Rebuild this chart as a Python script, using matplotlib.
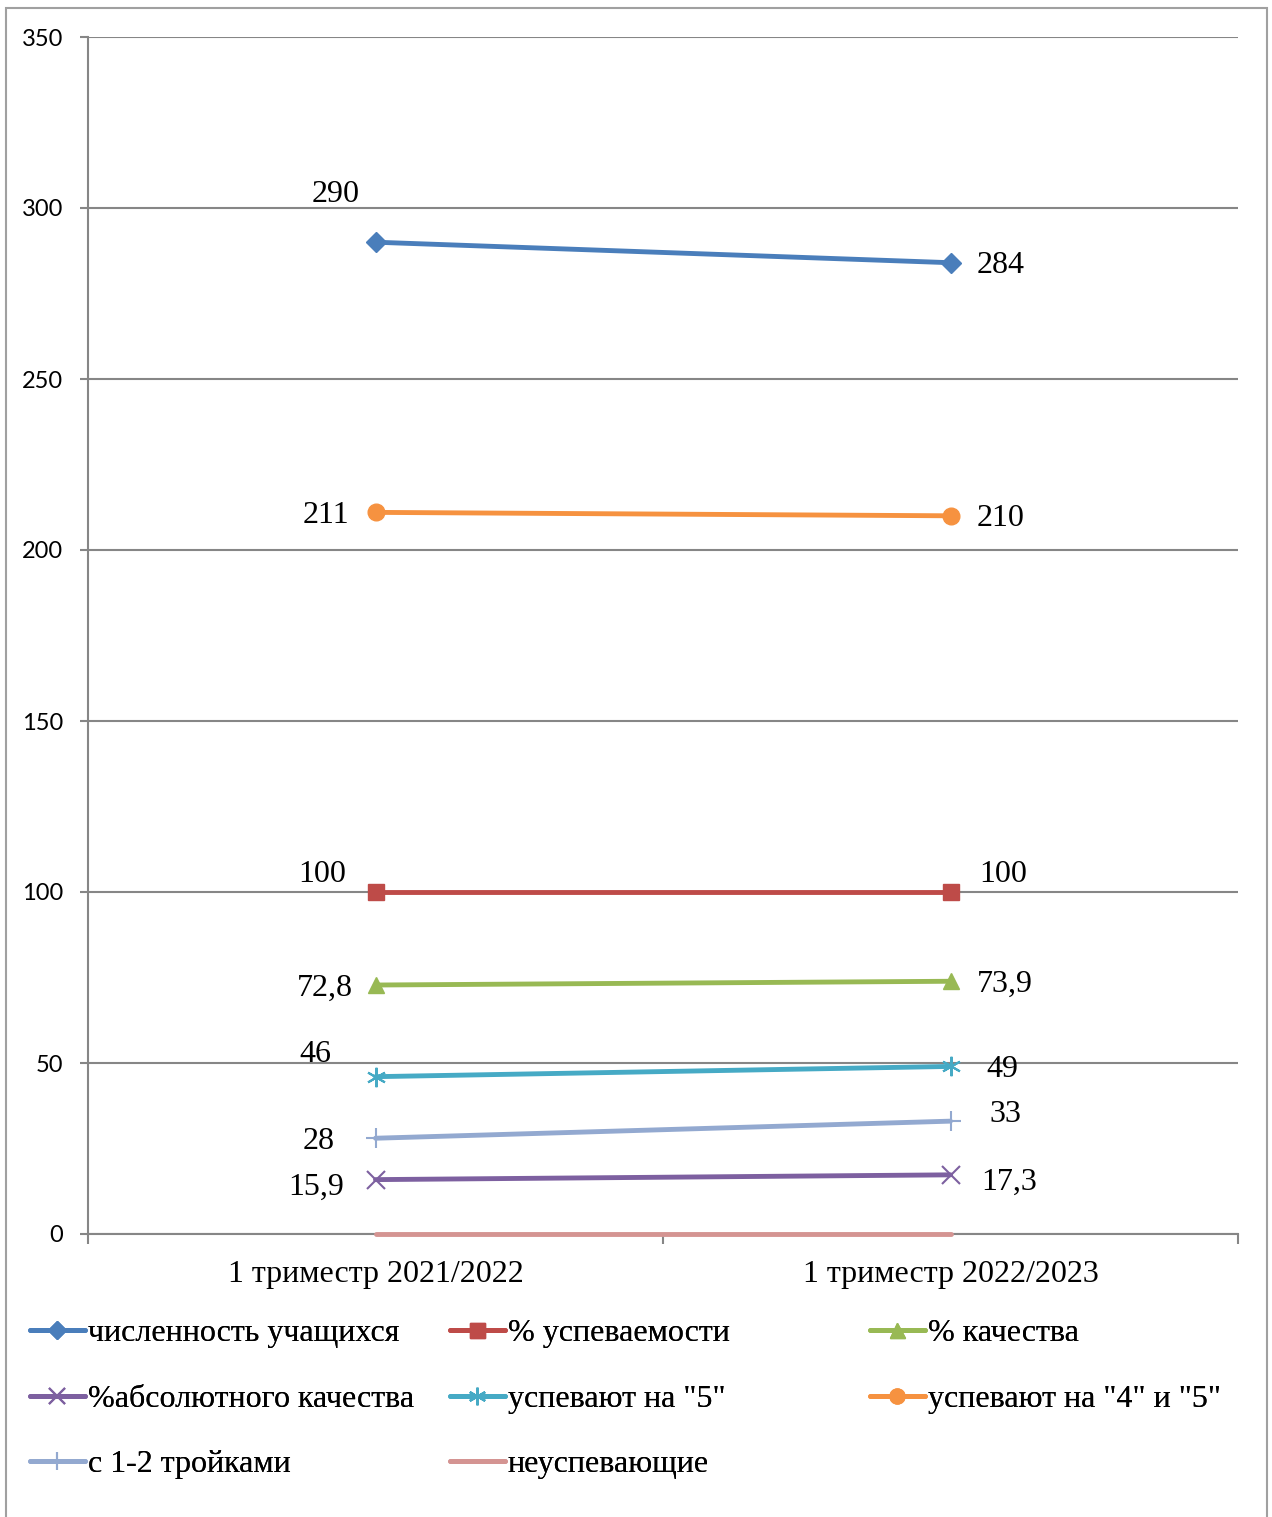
import matplotlib
matplotlib.use("Agg")
import matplotlib.pyplot as plt
from matplotlib.patches import Rectangle

categories = ["1 триместр 2021/2022", "1 триместр 2022/2023"]
series_names = ["численность учащихся", "% успеваемости", "% качества",
                "%абсолютного качества", "успевают на \"5\"", "успевают на \"4\" и \"5\"",
                "с 1-2 тройками", "неуспевающие"]
chislennost = [290, 284]
uspevaemost = [100, 100]
kachestvo = [72.8, 73.9]
abs_kachestvo = [15.9, 17.3]
na_5 = [46, 49]
na_4_5 = [211, 210]
troyki = [28, 33]
neuspev = [0, 0]
label_texts = [["290", "284"], ["100", "100"], ["72,8", "73,9"], ["15,9", "17,3"],
               ["46", "49"], ["211", "210"], ["28", "33"], [None, None]]
yticks = [0, 50, 100, 150, 200, 250, 300, 350]

values = [chislennost, uspevaemost, kachestvo, abs_kachestvo, na_5, na_4_5, troyki, neuspev]
colors = ["#4A7EBB", "#BE4B48", "#98B954", "#7D60A0", "#46AAC5", "#F69240", "#93A9D0", "#D49492"]
markers = ["D", "s", "^", "x", (6, 2, 0), "o", "+", None]
msizes = [10, 12, 12, 13, 14, 12, 14, 0]
# label offsets in pixels (dx, dy) for each point
offsets = [[(-40, 48), (50, -3)], [(-53, 18), (53, 18)], [(-51, -3), (54, -3)],
           [(-59, -8), (59, -7)], [(-60, 22), (52, -3)], [(-50, -3), (50, -3)],
           [(-57, -3), (55, 7)], [(0, 0), (0, 0)]]

W, H = 1272, 1517
fig = plt.figure(figsize=(W / 100, H / 100), dpi=100)
ax = fig.add_axes([88 / W, 1 - 1234 / H, (1238 - 88) / W, (1234 - 37) / H])

serif = "Liberation Serif"
FS = 23
xs = [0, 1]
handles = []
for i, (vals, c, m, ms) in enumerate(zip(values, colors, markers, msizes)):
    mew = 1.5 if m in ("x", "+") or isinstance(m, tuple) else 1
    ln, = ax.plot(xs, vals, color=c, lw=3.5, marker=m, markersize=ms,
                  markeredgewidth=mew, markerfacecolor=c, markeredgecolor=c,
                  solid_capstyle="round", zorder=3, label=series_names[i], clip_on=False)
    handles.append(ln)
    for j in range(2):
        t = label_texts[i][j]
        if t is None:
            continue
        ax.annotate(t, (xs[j], vals[j]), xytext=offsets[i][j], textcoords="offset pixels",
                    ha="center", va="center", fontsize=FS, family=serif, color="black")

ax.set_xlim(-0.5, 1.5)
ax.set_ylim(0, 350)
ax.set_yticks(yticks)
ax.set_yticklabels([str(v) for v in yticks], fontsize=17, family="Lato")
ax.tick_params(axis="y", length=6, width=1.5, color="#868686", pad=12)
ax.set_xticks(xs)
ax.set_xticklabels(categories, fontsize=FS, family=serif)
ax.tick_params(axis="x", which="major", length=0, pad=19)
ax.set_xticks([-0.5, 0.5, 1.5], minor=True)
ax.tick_params(axis="x", which="minor", length=7, width=1.5, color="#868686", direction="out")
ax.grid(axis="y", color="#868686", lw=1.5, zorder=0)
for s in ["top", "right"]:
    ax.spines[s].set_visible(False)
for s in ["left", "bottom"]:
    ax.spines[s].set_color("#868686")
    ax.spines[s].set_linewidth(1.5)
ax.set_axisbelow(True)

# legend in three columns (row-wise order)
cols = [[0, 3, 6], [1, 4, 7], [2, 5]]
col_x = [30, 450, 870]
for k, idxs in enumerate(cols):
    leg = fig.legend([handles[i] for i in idxs], [series_names[i] for i in idxs],
                     loc="upper left", bbox_to_anchor=(col_x[k] / W, 1 - 1319 / H),
                     frameon=False, prop={"family": serif, "size": FS},
                     handlelength=1.72, handletextpad=0.09, labelspacing=1.13,
                     borderpad=0, borderaxespad=0, markerscale=0.9)
    fig.add_artist(leg)

fig.add_artist(Rectangle((6 / W, -0.05), (1267 - 6) / W, 1 - 8 / H + 0.05,
                         transform=fig.transFigure, fill=False, edgecolor="#A0A0A0", lw=1.5))

fig.savefig("out.png", dpi=100)
